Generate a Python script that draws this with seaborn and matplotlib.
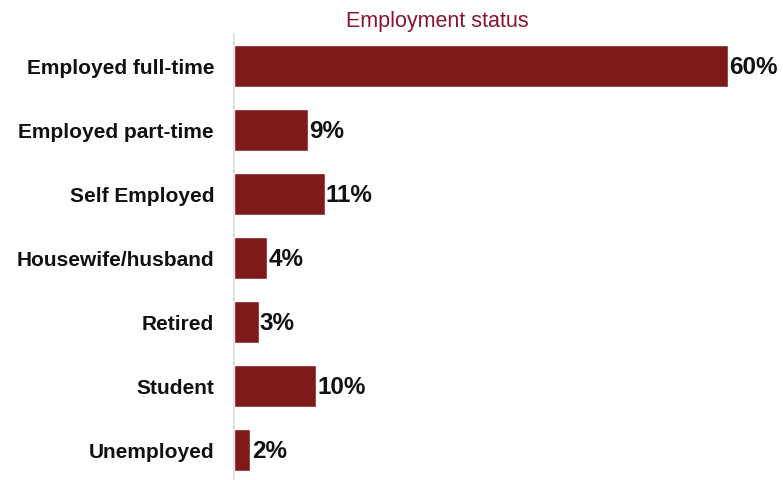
import matplotlib
matplotlib.use("Agg")
import matplotlib.pyplot as plt
import seaborn as sns
import pandas as pd

categories = ["Employed full-time", "Employed part-time", "Self Employed",
              "Housewife/husband", "Retired", "Student", "Unemployed"]
shares = [60, 9, 11, 4, 3, 10, 2]

df = pd.DataFrame({"status": categories, "share": shares})

sns.set_theme(style="white")
plt.rcParams["font.family"] = ["Liberation Sans", "DejaVu Sans"]

fig = plt.figure(figsize=(7.83, 4.8), dpi=100)
ax = fig.add_axes([234 / 783, -2 / 480, 549 / 783, 448 / 480])

bar_color = "#7f1a1b"
sns.barplot(data=df, x="share", y="status", orient="h", color=bar_color,
            width=0.67, saturation=1, ax=ax)

ax.set_xlim(0, 549 / 8.23)
ax.set_xlabel("")
ax.set_ylabel("")
ax.set_xticks([])
ax.tick_params(axis="y", length=0, pad=14.4)
for lbl in ax.get_yticklabels():
    lbl.set_fontweight("bold")
    lbl.set_fontsize(15)
    lbl.set_color("#111111")

for side in ["top", "right", "bottom"]:
    ax.spines[side].set_visible(False)
ax.spines["left"].set_color("#dddddd")
ax.spines["left"].set_linewidth(1.2)

for i, v in enumerate(shares):
    ax.text(v + 0.15, i + 0.03, f"{v}%", va="center", ha="left",
            fontsize=17.5, fontweight="bold", color="#111111")

fig.text(437 / 783, 459 / 480, "Employment status", ha="center", va="center",
         fontsize=15.5, color="#8a1530")

fig.savefig("out.png", dpi=100)
